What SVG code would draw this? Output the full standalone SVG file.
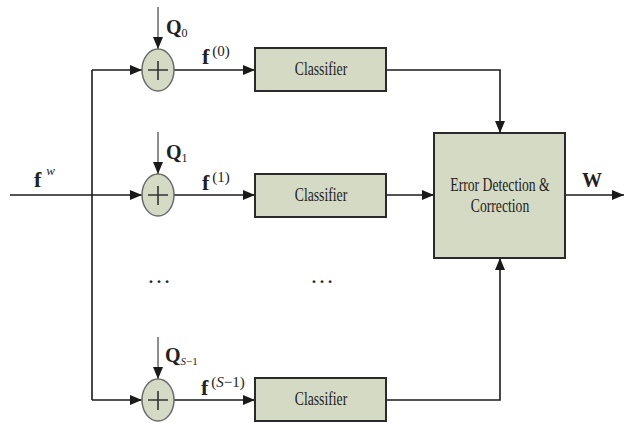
<svg xmlns="http://www.w3.org/2000/svg" width="624" height="423" viewBox="0 0 624 423">
<style>
.t{font-family:"Liberation Serif","Times New Roman",serif;fill:#222}
.box{fill:#d5dac5;stroke:#2a2a2a;stroke-width:2}
.sum{fill:#d5dac5;stroke:#6a6a6a;stroke-width:1.5}
.plus{stroke:#333;stroke-width:1.6;fill:none}
.ln{stroke:#1a1a1a;stroke-width:1.6;fill:none}
.thin{stroke:#1a1a1a;stroke-width:1;fill:none}
.ar{marker-end:url(#ah)}
</style>
<defs>
<marker id="ah" markerUnits="userSpaceOnUse" markerWidth="12" markerHeight="10" refX="12" refY="5" orient="auto">
<path d="M0,0 L12,5 L0,10 z" fill="#1a1a1a"/>
</marker>
</defs>
<g id="connectors">
<line class="ln" x1="92" y1="70" x2="92" y2="400"/>
<line class="ln ar" x1="92" y1="70" x2="142" y2="70"/>
<line class="ln ar" x1="10" y1="195" x2="142" y2="195"/>
<line class="ln ar" x1="92" y1="400" x2="142" y2="400"/>
<line class="thin ar" x1="158" y1="7" x2="158" y2="49"/>
<line class="thin ar" x1="158" y1="132" x2="158" y2="174"/>
<line class="thin ar" x1="158" y1="337" x2="158" y2="379"/>
<line class="ln ar" x1="174" y1="70" x2="255" y2="70"/>
<line class="ln ar" x1="174" y1="195" x2="255" y2="195"/>
<line class="ln ar" x1="174" y1="400" x2="255" y2="400"/>
<polyline class="ln ar" points="386,70 500,70 500,133"/>
<line class="ln ar" x1="386" y1="195" x2="434" y2="195"/>
<polyline class="ln ar" points="386,400 500,400 500,258"/>
<line class="ln ar" x1="565" y1="195" x2="624" y2="195"/>
</g>
<g id="sum0">
<ellipse class="sum" cx="158" cy="70" rx="16" ry="21"/>
<path class="plus" d="M158,61 V80 M148,70 H168"/>
</g>
<g id="sum1">
<ellipse class="sum" cx="158" cy="195" rx="16" ry="21"/>
<path class="plus" d="M158,186 V205 M148,195 H168"/>
</g>
<g id="sum2">
<ellipse class="sum" cx="158" cy="400" rx="16" ry="21"/>
<path class="plus" d="M158,391 V410 M148,400 H168"/>
</g>
<g id="classifier0">
<rect class="box" x="255" y="48" width="131" height="43"/>
<text class="t" font-size="18" text-anchor="middle" transform="translate(321,75) scale(0.76,1)">Classifier</text>
</g>
<g id="classifier1">
<rect class="box" x="255" y="174" width="131" height="43"/>
<text class="t" font-size="18" text-anchor="middle" transform="translate(321,201) scale(0.76,1)">Classifier</text>
</g>
<g id="classifier2">
<rect class="box" x="255" y="378" width="131" height="43"/>
<text class="t" font-size="18" text-anchor="middle" transform="translate(321,405) scale(0.76,1)">Classifier</text>
</g>
<g id="edc">
<rect class="box" x="434" y="133" width="131" height="125"/>
<text class="t" font-size="18" text-anchor="middle" transform="translate(500,191) scale(0.76,1)">Error Detection &amp;</text>
<text class="t" font-size="18" text-anchor="middle" transform="translate(500,212) scale(0.76,1)">Correction</text>
</g>
<g id="labels">
<text class="t" x="34" y="187"><tspan font-weight="bold" font-size="22">f</tspan><tspan font-style="italic" font-size="13" dx="5" dy="-12">w</tspan></text>
<text class="t" x="166" y="34"><tspan font-weight="bold" font-size="20">Q</tspan><tspan font-size="12" dy="3">0</tspan></text>
<text class="t" x="166" y="159"><tspan font-weight="bold" font-size="20">Q</tspan><tspan font-size="12" dy="3">1</tspan></text>
<text class="t" x="165" y="362"><tspan font-weight="bold" font-size="20">Q</tspan><tspan font-style="italic" font-size="11" dy="3">S</tspan><tspan font-size="11">−1</tspan></text>
<text class="t" x="202" y="64"><tspan font-weight="bold" font-size="22">f</tspan><tspan font-size="15" dx="3" dy="-8">(0)</tspan></text>
<text class="t" x="202" y="190"><tspan font-weight="bold" font-size="22">f</tspan><tspan font-size="15" dx="3" dy="-8">(1)</tspan></text>
<text class="t" x="201" y="395"><tspan font-weight="bold" font-size="22">f</tspan><tspan font-size="15" dx="3" dy="-8">(</tspan><tspan font-style="italic" font-size="15">S</tspan><tspan font-size="15">−1)</tspan></text>
<text class="t" x="582" y="187" font-weight="bold" font-size="20">W</text>
<text class="t" x="147" y="283" font-size="24">…</text>
<text class="t" x="310" y="283" font-size="24">…</text>
</g>
</svg>
